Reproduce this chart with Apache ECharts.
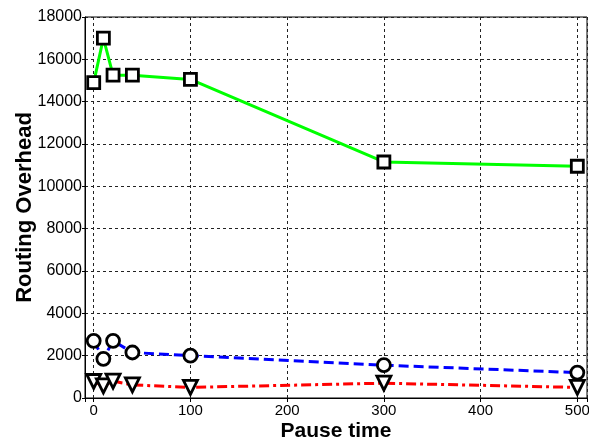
<!DOCTYPE html>
<html>
<head>
<meta charset="utf-8">
<script src="https://cdn.jsdelivr.net/npm/echarts@6/dist/echarts.min.js"></script>
<style>
html,body{margin:0;padding:0;background:#fff;}
#chart{width:589px;height:446px;}
</style>
</head>
<body>
<div id="chart"></div>
<script>
const pauseTimes = [0, 10, 20, 40, 100, 300, 500];
const squareSeries = [14900, 17000, 15250, 15250, 15050, 11150, 10950];
const circleSeries = [2700, 1850, 2700, 2150, 2000, 1550, 1200];
const triangleSeries = [780, 570, 800, 620, 500, 700, 500];
const xTitle = 'Pause time';
const yTitle = 'Routing Overhead';

function pairs(vals) { return pauseTimes.map((x, i) => [x, vals[i]]); }

const chart = echarts.init(document.getElementById('chart'), null, {renderer: 'canvas'});
const gridLine = {show: true, lineStyle: {color: '#222', width: 1, type: [3, 3]}};
const markerStyle = {color: '#fff', borderColor: '#000', borderWidth: 2.8};

chart.setOption({
  animation: false,
  backgroundColor: '#fff',
  grid: {left: 85, right: 2, top: 17, bottom: 48, show: true, borderColor: '#000', borderWidth: 1,
    backgroundColor: 'transparent', containLabel: false, outerBoundsMode: 'none'},
  xAxis: {
    type: 'value', min: -9, max: 510, splitNumber: 5, minInterval: 100, maxInterval: 100,
    name: xTitle, nameLocation: 'middle', nameGap: 23, nameMoveOverlap: false,
    nameTextStyle: {fontFamily: 'Liberation Sans', fontWeight: 'bold', fontSize: 21, color: '#000'},
    axisLine: {show: true, onZero: false, lineStyle: {color: '#000', width: 1}},
    axisTick: {show: true, length: 4, lineStyle: {color: '#000'}},
    axisLabel: {fontFamily: 'Liberation Sans', fontSize: 15, color: '#000', margin: 5,
      formatter: v => (v % 100 === 0 ? String(v) : '')},
    splitLine: gridLine
  },
  yAxis: {
    type: 'value', min: 0, max: 18000, interval: 2000,
    name: yTitle, nameLocation: 'middle', nameGap: 49, nameMoveOverlap: false,
    nameTextStyle: {fontFamily: 'Liberation Sans', fontWeight: 'bold', fontSize: 22, color: '#000'},
    axisLine: {show: true, onZero: false, lineStyle: {color: '#000', width: 1}},
    axisTick: {show: true, length: 3, lineStyle: {color: '#000'}},
    axisLabel: {fontFamily: 'Liberation Sans', fontSize: 16, color: '#000', margin: 3,
      formatter: v => String(v)},
    splitLine: gridLine
  },
  series: [
    {type: 'line', data: pairs(squareSeries), symbol: 'rect', symbolSize: 12,
      lineStyle: {color: '#00ff00', width: 3, type: 'solid'}, itemStyle: markerStyle, z: 3},
    {type: 'line', data: pairs(circleSeries), symbol: 'circle', symbolSize: 13,
      lineStyle: {color: '#0000ff', width: 3, type: [10, 5]}, itemStyle: markerStyle, z: 3},
    {type: 'line', data: pairs(triangleSeries), symbol: 'triangle', symbolRotate: 180, symbolSize: 14,
      lineStyle: {color: '#ff0000', width: 3, type: [10, 4, 3, 4]}, itemStyle: markerStyle, z: 3}
  ]
});
</script>
</body>
</html>
